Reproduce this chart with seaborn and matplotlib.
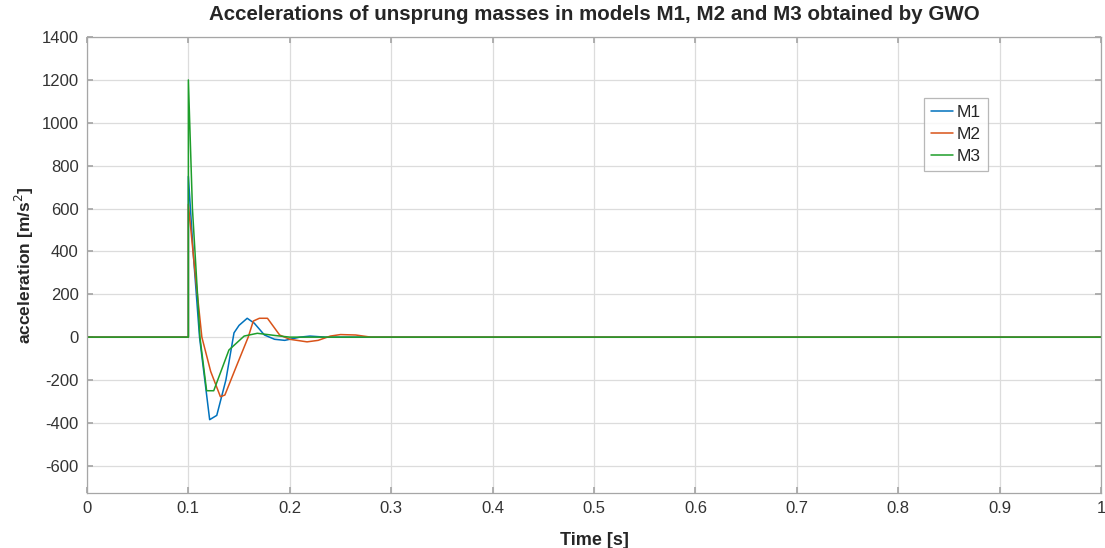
import numpy as np
import pandas as pd
import seaborn as sns
import matplotlib.pyplot as plt

# Values (impulse at t = 0.1 s, flat zero afterwards)
t_m1 = [0, 0.1, 0.1, 0.105, 0.111, 0.121, 0.128, 0.137, 0.145, 0.15, 0.158,
        0.165, 0.175, 0.185, 0.195, 0.21, 0.22, 0.235, 1.0]
a_m1 = [0, 0, 750, 380, 0, -385, -365, -200, 20, 55, 88,
        65, 10, -10, -15, 0, 5, 0, 0]

t_m2 = [0, 0.1, 0.1, 0.106, 0.1133, 0.122, 0.1316, 0.136, 0.147, 0.159, 0.164,
        0.17, 0.178, 0.19, 0.2, 0.217, 0.228, 0.24, 0.25, 0.265, 0.28, 1.0]
a_m2 = [0, 0, 620, 330, 0, -160, -278, -270, -140, 0, 75,
        88, 88, 10, -10, -22, -15, 5, 12, 10, 0, 0]

t_m3 = [0, 0.1, 0.1, 0.104, 0.109, 0.1114, 0.118, 0.125, 0.14, 0.155, 0.168,
        0.185, 0.2, 1.0]
a_m3 = [0, 0, 1200, 600, 200, 0, -250, -250, -60, 5, 18,
        8, 0, 0]

models = ["M1", "M2", "M3"]
colors = ["#0072BD", "#D95319", "#1E9E2A"]

df = pd.concat([
    pd.DataFrame({"time": t, "acc": a, "model": m})
    for t, a, m in zip([t_m1, t_m2, t_m3], [a_m1, a_m2, a_m3], models)
])

sns.set_theme(style="white")
plt.rcParams['font.family'] = ['Liberation Sans', 'DejaVu Sans']
plt.rcParams['axes.unicode_minus'] = False

fig = plt.figure(figsize=(11.05, 5.48), dpi=100)
ax = fig.add_axes([0.0787, 0.1004, 0.9177, 0.832])

sns.lineplot(data=df, x="time", y="acc", hue="model", palette=colors,
             estimator=None, sort=False, linewidth=1.1, ax=ax)

ax.set_xlim(0, 1)
ax.set_ylim(-727, 1400)
ax.set_xticks(np.arange(0, 1.01, 0.1))
ax.set_xticklabels(["0", "0.1", "0.2", "0.3", "0.4", "0.5", "0.6", "0.7", "0.8", "0.9", "1"])
ax.set_yticks(np.arange(-600, 1401, 200))
ax.grid(True, color="#dcdcdc", linewidth=0.9)
for s in ax.spines.values():
    s.set_color("#a6a6a6")
    s.set_linewidth(0.9)
ax.tick_params(axis="both", labelsize=12, colors="#a6a6a6", labelcolor="#333333",
               direction="in", length=4, pad=6)
ax.tick_params(top=True, right=True, bottom=True, left=True)

ax.set_title("Accelerations of unsprung masses in models M1, M2 and M3 obtained by GWO",
             fontsize=14.8, fontweight="bold", pad=12)
ax.set_xlabel("Time [s]", fontsize=13, fontweight="bold", labelpad=11)
ax.set_ylabel("acceleration [m/s$^2$]", fontsize=12.5, fontweight="bold", labelpad=4)

leg = ax.legend(loc="upper left", bbox_to_anchor=(0.825, 0.866), fontsize=12.5,
                frameon=True, fancybox=False, handlelength=1.3, handletextpad=0.2,
                borderpad=0.4, labelspacing=0.4, borderaxespad=0)
leg.get_frame().set_edgecolor("#a6a6a6")
leg.get_frame().set_linewidth(0.9)

plt.savefig("out.png", dpi=100)
